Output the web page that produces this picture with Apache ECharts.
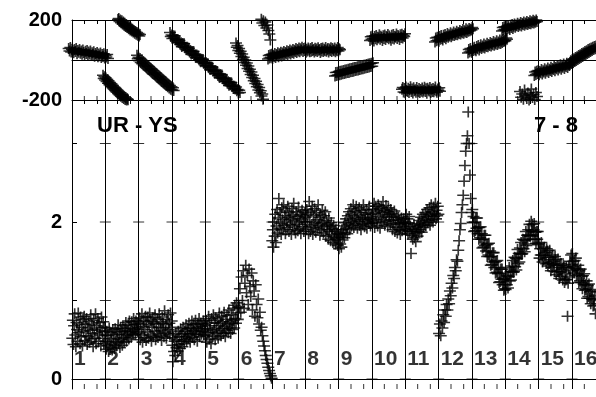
<!DOCTYPE html>
<html><head><meta charset="utf-8">
<script src="https://cdn.jsdelivr.net/npm/echarts@6/dist/echarts.min.js"></script>
<style>html,body{margin:0;padding:0;background:#fff}#c{width:596px;height:397px}</style>
</head><body><div id="c"></div>
<script>
// ---------- labels / ticks ----------
const segmentLabels = ['1','2','3','4','5','6','7','8','9','10','11','12','13','14','15','16'];
const phaseAxisLabels = [-200, 200];
const ampTickValues = [0, 1, 2, 3];
const ampAxisLabels = [0, 2];
const minorTickFractions = [0.37, 0.75];
const panelTitles = ['UR - YS', '7 - 8'];

// ---------- phase (top panel): runs of points, x-range per run ----------
const phaseRunX = [
  [-0.10,1.08],[0.93,1.68],[1.38,2.04],[1.95,3.05],[2.94,5.04],[4.92,5.73],[5.68,5.95],
  [5.88,6.90],[6.93,8.04],[7.89,9.03],[8.94,9.99],[9.90,11.04],[10.89,12.03],[11.88,13.05],
  [12.90,13.95],[13.44,13.95],[13.87,14.94],[14.94,15.72]
];
const phaseA = [58,45,62,40,54,49,36,52,43,57,31,47,39,53,34,45,29,50,38,27,44,33,48,25,40,30,45,22,36,28,41,19,33,24,38,16,30,21,35,13,27,18,31,10,24,15,28,8];
const phaseB = [-76,-92,-84,-100,-90,-108,-98,-116,-105,-124,-113,-131,-120,-138,-128,-145,-136,-152,-143,-160,-150,-167,-157,-174,-164,-181,-171,-187,-178,-193,-184,-198,-189,-200,-194,-199];
const phaseC = [203,208,193,200,186,196,180,190,174,184,168,178,162,172,156,166,150,160,145,154,140,148,134,143,129,138,124,132,120,128];
const phaseD = [24,6,14,-4,8,-12,0,-19,-7,-26,-14,-33,-20,-40,-27,-47,-34,-53,-41,-60,-48,-67,-54,-73,-61,-80,-68,-87,-75,-94,-81,-100,-88,-107,-95,-114,-101,-120,-108,-127,-115,-134,-121,-140,-128,-146,-134,-150,-139,-153];
const phaseE = [137,118,125,107,121,110,120,100,103,90,103,88,98,79,86,68,82,71,81,61,64,51,64,49,59,40,47,30,43,32,42,23,25,12,25,11,20,1,8,-9,4,-7,3,-16,-14,-27,-14,-28,-19,-38,-31,-48,-34,-46,-36,-55,-52,-66,-53,-67,-57,-77,-70,-87,-73,-85,-75,-94,-91,-105,-92,-106,-96,-116,-109,-126,-112,-124,-114,-133,-130,-143,-131,-145,-135,-154,-148,-165,-151,-162];
const phaseF = [85,64,73,48,58,34,44,18,30,4,14,-12,0,-26,-15,-42,-30,-56,-46,-72,-60,-88,-76,-104,-92,-118,-106,-134,-122,-150,-138,-164,-154,-180,-170,-196];
const phaseG = [204,185,196,172,190,160,175,148,130,100];
const phaseH = [5,22,10,26,14,29,8,24,18,33,12,28,21,36,16,31,25,39,20,35,28,43,24,38,31,46,27,42,35,50,30,45,38,53,34,49,42,57,38,52,45,60,41,56,49,64];
const phaseI = [42,58,47,61,39,54,45,60,50,41,57,44,62,48,53,40,59,46,55,43,61,49,52,38,57,45,60,42,54,48,63,44,51,58,40,55,47,61,43,57,50,46,60,41,54,48,62,45,56,51];
const phaseJ = [-80,-63,-77,-61,-75,-58,-74,-56,-71,-55,-69,-52,-68,-50,-65,-49,-63,-46,-62,-44,-59,-43,-57,-40,-56,-38,-53,-37,-51,-34,-50,-32,-47,-31,-45,-28,-44,-26,-41,-25,-39,-22,-38,-20,-35,-19,-33,-16,-31,-14];
const phaseK = [98,116,104,120,108,95,117,106,123,101,114,110,126,104,119,112,97,121,108,125,103,117,113,128,106,120,111,99,124,109,127,105,118,114,130,108,122,116,102,126,112,129,110,123,118,131];
const phaseL = [-146,-138,-160,-143,-164,-135,-153,-158,-141,-162,-148,-134,-157,-145,-165,-139,-154,-149,-161,-137,-152,-159,-142,-163,-147,-156,-140,-160,-151,-136,-158,-144,-166,-141,-150,-155,-138,-162,-146,-157,-143,-159,-149,-135,-154,-161,-145,-152,-139,-156];
const phaseM = [90,110,96,114,100,94,118,104,122,108,100,124,112,128,106,118,132,114,126,120,136,116,130,124,140,122,134,128,144,126,138,132,148,130,142,136,152,134,146,140,156,138,150,144,158,146,154,150,162,156];
const phaseN = [35,52,40,57,45,38,60,48,64,52,46,68,56,72,50,62,76,58,70,64,80,60,74,68,84,66,78,72,88,70,82,76,92,74,86,80,96,78,90,84,100,82,94,88,104,92,98,96,110,104];
const phaseO = [145,162,150,166,154,148,168,157,172,160,153,174,163,177,158,169,180,164,175,171,184,167,179,174,187,170,182,177,190,174,185,180,193,178,188,183,196,181,191,186,199,185,194,189,200,192];
const phaseP = [-158,-186,-170,-196,-150,-180,-192,-165,-200,-176,-145,-188,-172,-198,-162,-182];
const phaseQ = [-78,-60,-72,-56,-68,-52,-74,-58,-64,-48,-70,-54,-60,-44,-66,-50,-56,-40,-62,-46,-52,-36,-58,-42,-48,-32,-54,-38,-44,-28,-50,-34,-40,-24,-46,-30,-36,-20,-42,-26,-32,-16,-38,-22,-28,-12];
const phaseR = [-24,-4,-18,2,-12,6,-8,12,-2,16,2,22,8,26,12,32,18,36,22,42,28,46,32,52,38,56,42,60,48,64,52,68,56,70];
const phaseRuns = [phaseA,phaseB,phaseC,phaseD,phaseE,phaseF,phaseG,phaseH,phaseI,phaseJ,phaseK,phaseL,phaseM,phaseN,phaseO,phaseP,phaseQ,phaseR];

// ---------- amplitude (bottom panel): values per segment ----------
const amp1 = [0.52,0.75,0.44,0.68,0.83,0.56,0.41,0.72,0.63,0.48,0.84,0.59,0.7,0.45,0.79,0.54,0.66,0.42,0.76,0.61,0.8,0.49,0.69,0.55,0.77,0.44,0.65,0.54,0.73,0.47,0.62,0.82,0.51,0.7,0.58,0.41,0.75,0.63,0.52,0.83,0.45,0.68,0.59,0.77,0.48,0.72,0.56,0.65,0.42,0.79,0.61,0.52,0.73,0.45,0.66,0.56];
const amp2 = [0.48,0.38,0.61,0.43,0.55,0.35,0.65,0.47,0.4,0.59,0.51,0.37,0.63,0.44,0.56,0.39,0.64,0.48,0.42,0.6,0.52,0.69,0.46,0.57,0.4,0.65,0.5,0.61,0.43,0.68,0.53,0.47,0.64,0.57,0.72,0.48,0.61,0.55,0.69,0.51,0.74,0.59,0.65,0.53,0.73,0.61,0.56,0.77,0.63,0.69,0.57,0.74,0.64,0.7,0.6,0.66];
const amp3 = [0.58,0.78,0.5,0.71,0.56,0.83,0.47,0.67,0.75,0.53,0.63,0.8,0.49,0.73,0.6,0.79,0.52,0.69,0.84,0.56,0.74,0.48,0.66,0.78,0.54,0.71,0.61,0.82,0.5,0.7,0.58,0.76,0.53,0.66,0.83,0.56,0.73,0.62,0.49,0.79,0.65,0.71,0.54,0.87,0.6,0.69,0.52,0.76,0.58,0.82,0.63,0.71,0.56,0.84,0.66,0.74];
const amp4 = [0.43,0.22,0.53,0.35,0.48,0.3,0.58,0.4,0.5,0.36,0.61,0.44,0.54,0.39,0.64,0.48,0.57,0.41,0.66,0.5,0.45,0.61,0.54,0.69,0.48,0.58,0.64,0.52,0.71,0.56,0.47,0.65,0.58,0.74,0.53,0.62,0.69,0.5,0.61,0.75,0.57,0.66,0.48,0.7,0.6,0.77,0.54,0.64,0.71,0.57,0.67,0.61,0.74,0.56,0.69,0.64];
const amp5 = [0.55,0.75,0.47,0.68,0.59,0.8,0.51,0.71,0.63,0.45,0.77,0.6,0.54,0.82,0.62,0.72,0.5,0.78,0.65,0.58,0.75,0.52,0.68,0.84,0.6,0.71,0.55,0.8,0.64,0.73,0.58,0.85,0.67,0.54,0.76,0.62,0.81,0.69,0.59,0.88,0.65,0.73,0.58,0.82,0.71,0.63,0.9,0.75,0.65,0.94,0.77,0.71,0.97,0.84,0.76,0.91];
const amp6 = [0.92,1.15,0.85,1.3,1.0,1.38,0.9,1.22,1.45,1.1,1.32,0.95,1.4,1.18,1.05,1.35,0.88,1.25,1.12,0.8,1.2,0.95,0.78,1.02,0.7,0.85,0.62,0.66,0.55,0.48,0.42,0.36,0.3,0.25,0.2,0.15,0.11,0.07,0.04,0.01];
const amp7 = [1.76,1.9,1.68,2.0,1.82,2.1,1.74,1.95,2.16,1.86,2.05,2.3,1.92,2.12,1.98,1.84,2.18,2.03,1.9,2.22,1.96,2.08,1.85,2.14,2.0,1.93,2.2,2.06,1.88,2.12,1.97,2.04,1.84,2.17,1.95,2.09,2.24,1.9,2.02,1.86,2.13,1.97,2.07,1.89,2.19,2.0,1.92,2.1,1.85,2.04,2.15,1.94,2.08,1.88,2.0,2.12];
const amp8 = [2.06,1.9,2.16,1.97,2.1,1.85,2.26,2.01,1.88,2.14,1.95,2.2,1.84,2.08,1.93,2.17,1.99,1.87,2.12,2.03,1.92,2.22,1.96,2.06,1.83,2.1,1.98,1.9,2.15,2.0,1.86,2.08,1.94,2.13,1.82,2.02,1.9,1.97,1.78,2.05,1.88,1.95,1.76,1.99,1.84,1.92,1.74,1.96,1.8,1.88,1.72,1.9,1.78,1.85,1.7,1.82];
const amp9 = [1.66,1.8,1.72,1.86,1.68,1.9,1.77,1.84,1.95,1.8,1.99,1.87,2.04,1.92,1.85,2.08,1.97,2.13,1.9,2.02,2.17,1.95,2.1,2.0,2.22,1.93,2.06,2.14,1.98,2.2,2.04,1.92,2.12,2.01,2.18,1.96,2.08,1.9,2.15,2.03,1.97,2.22,2.06,1.94,2.1,2.0,2.16,1.92,2.05,2.12,1.98,2.2,2.04,1.95,2.1,2.02];
const amp10 = [1.98,2.16,2.03,2.24,1.93,2.11,2.2,2.0,2.14,1.95,2.22,2.07,2.17,1.92,2.05,2.19,1.99,2.12,2.26,2.03,2.15,1.96,2.09,2.21,2.01,2.13,1.94,2.18,2.06,2.1,1.97,2.16,2.02,2.11,1.9,2.07,1.98,2.14,1.88,2.03,1.93,2.09,1.86,1.99,2.06,1.9,2.02,1.84,1.97,2.05,1.89,2.0,1.94,2.04,1.91,1.98];
const amp11 = [1.98,2.1,1.9,2.04,1.85,1.99,2.07,1.88,1.95,1.6,1.83,1.92,1.78,1.88,1.97,1.8,1.9,1.75,1.86,1.94,1.82,1.98,1.88,2.02,1.9,1.96,2.06,1.87,2.0,2.1,1.93,2.04,1.97,2.12,1.95,2.07,2.16,1.99,2.1,2.02,2.18,1.96,2.08,2.22,2.03,2.13,2.0,2.19,2.07,2.11,2.24,2.04,2.15,2.08,2.2,2.1];
const amp12 = [0.58,0.7,0.55,0.74,0.65,0.82,0.72,0.88,0.8,0.95,0.88,1.02,0.96,1.12,1.06,1.22,1.16,1.32,1.28,1.42,1.38,1.52,1.5,1.64,1.76,1.9,1.98,2.12,2.22,2.34,2.52,2.72,2.9,3.0,3.1,3.4,3.0,2.6,2.3,2.12];
const amp13 = [2.16,1.99,2.07,1.88,2.0,1.89,2.05,1.92,2.05,1.85,1.93,1.78,1.93,1.8,1.94,1.78,1.85,1.67,1.78,1.68,1.83,1.7,1.83,1.63,1.71,1.56,1.72,1.58,1.73,1.56,1.63,1.45,1.56,1.46,1.61,1.49,1.61,1.42,1.49,1.35,1.5,1.36,1.51,1.34,1.42,1.23,1.35,1.24,1.4,1.27,1.4,1.2,1.27,1.13,1.28,1.15];
const amp14 = [1.14,1.32,1.2,1.31,1.16,1.3,1.42,1.25,1.37,1.26,1.44,1.37,1.51,1.36,1.37,1.55,1.43,1.54,1.39,1.53,1.65,1.47,1.6,1.49,1.67,1.6,1.74,1.59,1.6,1.78,1.66,1.77,1.62,1.76,1.88,1.7,1.83,1.72,1.9,1.83,1.97,1.82,1.83,2.01,1.89,1.97,1.78,1.9,1.98,1.78,1.87,1.73,1.88,1.78,1.88,1.71];
const amp15 = [1.73,1.54,1.66,1.58,1.74,1.58,1.49,1.66,1.52,1.68,1.57,1.61,1.47,1.66,1.63,1.44,1.55,1.47,1.64,1.48,1.38,1.55,1.42,1.58,1.46,1.5,1.37,1.56,1.52,1.33,1.45,1.37,1.53,1.37,1.28,1.45,1.31,1.47,1.36,1.4,1.26,1.45,1.42,1.23,1.34,1.26,1.43,1.27,0.8,1.22,1.42,1.3,1.5,1.38,1.58,1.46];
const amp16 = [1.6,1.43,1.5,1.35,1.51,1.41,1.54,1.32,1.4,1.33,1.45,1.23,1.38,1.25,1.4,1.23,1.31,1.15,1.32,1.21,1.34,1.13,1.2,1.14,1.25,1.03,1.19,1.05,1.21,1.03,1.11,0.96,1.12,1.02,1.14,0.93,1.01,0.94,1.06,0.83];
const ampSegments = [amp1,amp2,amp3,amp4,amp5,amp6,amp7,amp8,amp9,amp10,amp11,amp12,amp13,amp14,amp15,amp16];

// ---------- build ----------
const X_MAX = 15.72, AMP_MIN = -0.127, AMP_MAX = 3.554, SAMPLES_PER_SEG = 56;
const FONT = 'Liberation Sans, Arial, Helvetica, sans-serif';

const phaseData = [];
phaseRuns.forEach((vals, r) => {
  const [x0, x1] = phaseRunX[r];
  vals.forEach((v, i) => phaseData.push([x0 + (x1 - x0) * i / (vals.length - 1), v]));
});
const ampData = [];
ampSegments.forEach((vals, s) => {
  const n = s === ampSegments.length - 1 ? SAMPLES_PER_SEG : vals.length;
  vals.forEach((v, i) => ampData.push([s + (i + 0.5) / n, v]));
});
const minorTicks = [];
for (let k = 0; k < segmentLabels.length; k++) minorTickFractions.forEach(f => { if (k + f < X_MAX) minorTicks.push(k + f); });
const crossTicks = [];
for (let k = 1; k < segmentLabels.length; k++) ampTickValues.forEach(v => crossTicks.push([k, v]));
const labelData = segmentLabels.map((t, i) => [i + 0.06, 0.255]);

const CROSS = 'path://M5 0L5 10M0 5L10 5';
const markStyle = {color: 'rgba(0,0,0,0)', borderColor: '#000', borderWidth: 1.6};
const line = {lineStyle: {color: '#000', width: 1}};

const chart = echarts.init(document.getElementById('c'), null, {renderer: 'canvas'});
chart.setOption({
  animation: false,
  backgroundColor: '#fff',
  title: [
    {text: panelTitles[0], left: 97, top: 115, padding: 0, textStyle: {fontSize: 22, fontWeight: 'bold', fontFamily: FONT, color: '#000'}},
    {text: panelTitles[1], left: 534, top: 115, padding: 0, textStyle: {fontSize: 22, fontWeight: 'bold', fontFamily: FONT, color: '#000'}}
  ],
  grid: [
    {left: 72, right: 0, top: 20, height: 80},
    {left: 72, right: 0, top: 100, height: 289}
  ],
  xAxis: [
    {gridIndex: 0, type: 'value', position: 'bottom', min: 0, max: X_MAX, interval: 1,
     axisLine: {show: true, ...line}, axisTick: {show: false}, axisLabel: {show: false},
     splitLine: {show: true, ...line}},
    {gridIndex: 0, type: 'value', position: 'top', min: 0, max: X_MAX,
     axisLine: {show: true, ...line}, axisTick: {show: true, inside: true, length: 4, customValues: minorTicks, ...line},
     axisLabel: {show: false}, splitLine: {show: false}},
    {gridIndex: 1, type: 'value', position: 'bottom', min: 0, max: X_MAX, interval: 1,
     axisLine: {show: true, ...line}, axisTick: {show: false}, axisLabel: {show: false},
     splitLine: {show: true, ...line}},
    {gridIndex: 1, type: 'value', position: 'top', min: 0, max: X_MAX,
     axisLine: {show: true, ...line}, axisTick: {show: true, inside: true, length: 4, customValues: minorTicks, ...line},
     axisLabel: {show: false}, splitLine: {show: false}}
  ],
  yAxis: [
    {gridIndex: 0, type: 'value', min: -200, max: 200, interval: 200,
     axisLine: {show: true, ...line}, axisTick: {show: false},
     axisLabel: {show: true, customValues: phaseAxisLabels, margin: 10, fontSize: 20, fontWeight: 'bold', fontFamily: FONT, color: '#000'},
     splitLine: {show: true, ...line}},
    {gridIndex: 1, type: 'value', min: AMP_MIN, max: AMP_MAX,
     axisLine: {show: true, ...line},
     axisTick: {show: true, inside: true, length: 5, customValues: ampTickValues, ...line},
     axisLabel: {show: true, customValues: ampAxisLabels, margin: 10, fontSize: 20, fontWeight: 'bold', fontFamily: FONT, color: '#000'},
     splitLine: {show: false}}
  ],
  series: [
    {type: 'scatter', xAxisIndex: 0, yAxisIndex: 0, data: phaseData, symbol: CROSS, symbolSize: [12, 11],
     itemStyle: markStyle, clip: false, silent: true, large: false},
    {type: 'scatter', xAxisIndex: 2, yAxisIndex: 1, data: ampData, symbol: CROSS, symbolSize: [12, 11],
     itemStyle: markStyle, clip: false, silent: true, large: false},
    {type: 'scatter', xAxisIndex: 2, yAxisIndex: 1, data: crossTicks, symbol: 'rect', symbolSize: [11, 1],
     itemStyle: {color: '#000'}, silent: true},
    {type: 'scatter', xAxisIndex: 0, yAxisIndex: 0, data: minorTicks.map(t => [t, -200]), symbol: 'rect', symbolSize: [1, 4],
     symbolOffset: [0, -2], itemStyle: {color: '#000'}, silent: true, clip: false},
    {type: 'scatter', xAxisIndex: 2, yAxisIndex: 1, data: minorTicks.map(t => [t, AMP_MIN]), symbol: 'rect', symbolSize: [1, 5],
     symbolOffset: [0, -2.5], itemStyle: {color: '#000'}, silent: true, clip: false},
    {type: 'scatter', xAxisIndex: 2, yAxisIndex: 1, data: labelData, symbolSize: 0, silent: true,
     label: {show: true, position: 'right', distance: 0, formatter: p => segmentLabels[p.dataIndex],
             fontSize: 21, fontWeight: 'bold', fontFamily: FONT, color: '#000'}}
  ]
});
</script></body></html>
